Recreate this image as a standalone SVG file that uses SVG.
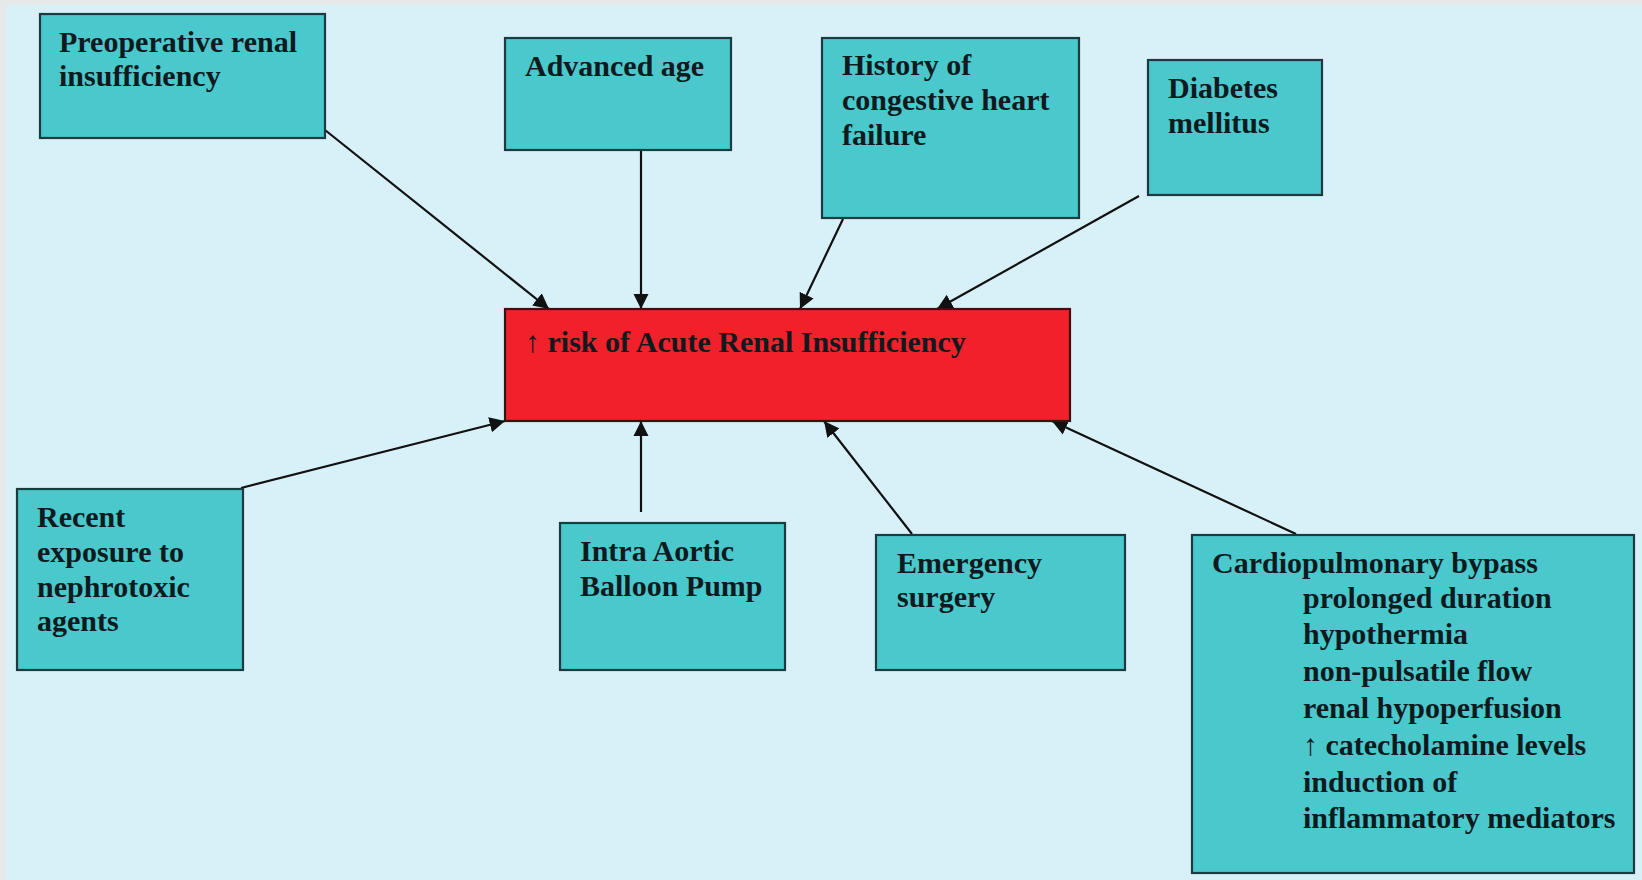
<svg xmlns="http://www.w3.org/2000/svg" width="1642" height="880" viewBox="0 0 1642 880">
<defs>
<style>
.box{fill:#4ac8cb;stroke:#1c3a40;stroke-width:2.2}
.red{fill:#f0212a;stroke:#3a1212;stroke-width:2.2}
.t{font-family:"Liberation Serif","Times New Roman",serif;font-weight:bold;font-size:30px;fill:#0e1a1e}
.ar{font-weight:normal}
.c line{stroke:#111;stroke-width:2.2;marker-end:url(#ah)}
</style>
<marker id="ah" viewBox="0 0 10 10" refX="10" refY="5" markerWidth="7" markerHeight="7.4" markerUnits="strokeWidth" orient="auto">
<path d="M0,0 L10,5 L0,10 z" fill="#111"/>
</marker>
</defs>
<rect x="0" y="0" width="1642" height="880" fill="#e6e8e9"/>
<rect x="6" y="5" width="1636" height="875" fill="#d8f1f8"/>

<g class="c" id="connectors">
<line x1="325" y1="130" x2="549" y2="309"/>
<line x1="641" y1="150" x2="641" y2="309"/>
<line x1="843" y1="219" x2="800" y2="309"/>
<line x1="1139" y1="196" x2="937" y2="309"/>
<line x1="241" y1="488" x2="505" y2="421"/>
<line x1="641" y1="512" x2="641" y2="421"/>
<line x1="912" y1="534" x2="824" y2="421"/>
<line x1="1296" y1="534" x2="1052" y2="421"/>
</g>

<g id="n-preop">
<rect class="box" x="40" y="14" width="285" height="124"/>
<text class="t" x="59" y="52">Preoperative renal</text>
<text class="t" x="59" y="86">insufficiency</text>
</g>
<g id="n-age">
<rect class="box" x="505" y="38" width="226" height="112"/>
<text class="t" x="525" y="76">Advanced age</text>
</g>
<g id="n-chf">
<rect class="box" x="822" y="38" width="257" height="180"/>
<text class="t" x="842" y="75">History of</text>
<text class="t" x="842" y="110">congestive heart</text>
<text class="t" x="842" y="145">failure</text>
</g>
<g id="n-dm">
<rect class="box" x="1148" y="60" width="174" height="135"/>
<text class="t" x="1168" y="98">Diabetes</text>
<text class="t" x="1168" y="133">mellitus</text>
</g>
<g id="n-center">
<rect class="red" x="505" y="309" width="565" height="112"/>
<text class="t" x="525" y="352"><tspan class="ar">↑</tspan> risk of Acute Renal Insufficiency</text>
</g>
<g id="n-recent">
<rect class="box" x="17" y="489" width="226" height="181"/>
<text class="t" x="37" y="527">Recent</text>
<text class="t" x="37" y="562">exposure to</text>
<text class="t" x="37" y="597">nephrotoxic</text>
<text class="t" x="37" y="631">agents</text>
</g>
<g id="n-iabp">
<rect class="box" x="560" y="523" width="225" height="147"/>
<text class="t" x="580" y="561">Intra Aortic</text>
<text class="t" x="580" y="596">Balloon Pump</text>
</g>
<g id="n-emerg">
<rect class="box" x="876" y="535" width="249" height="135"/>
<text class="t" x="897" y="573">Emergency</text>
<text class="t" x="897" y="607">surgery</text>
</g>
<g id="n-cpb">
<rect class="box" x="1192" y="535" width="442" height="338"/>
<text class="t" x="1212" y="573">Cardiopulmonary bypass</text>
<text class="t" x="1303" y="608">prolonged duration</text>
<text class="t" x="1303" y="644">hypothermia</text>
<text class="t" x="1303" y="681">non-pulsatile flow</text>
<text class="t" x="1303" y="718">renal hypoperfusion</text>
<text class="t" x="1303" y="755"><tspan class="ar">↑</tspan> catecholamine levels</text>
<text class="t" x="1303" y="792">induction of</text>
<text class="t" x="1303" y="828">inflammatory mediators</text>
</g>
</svg>
